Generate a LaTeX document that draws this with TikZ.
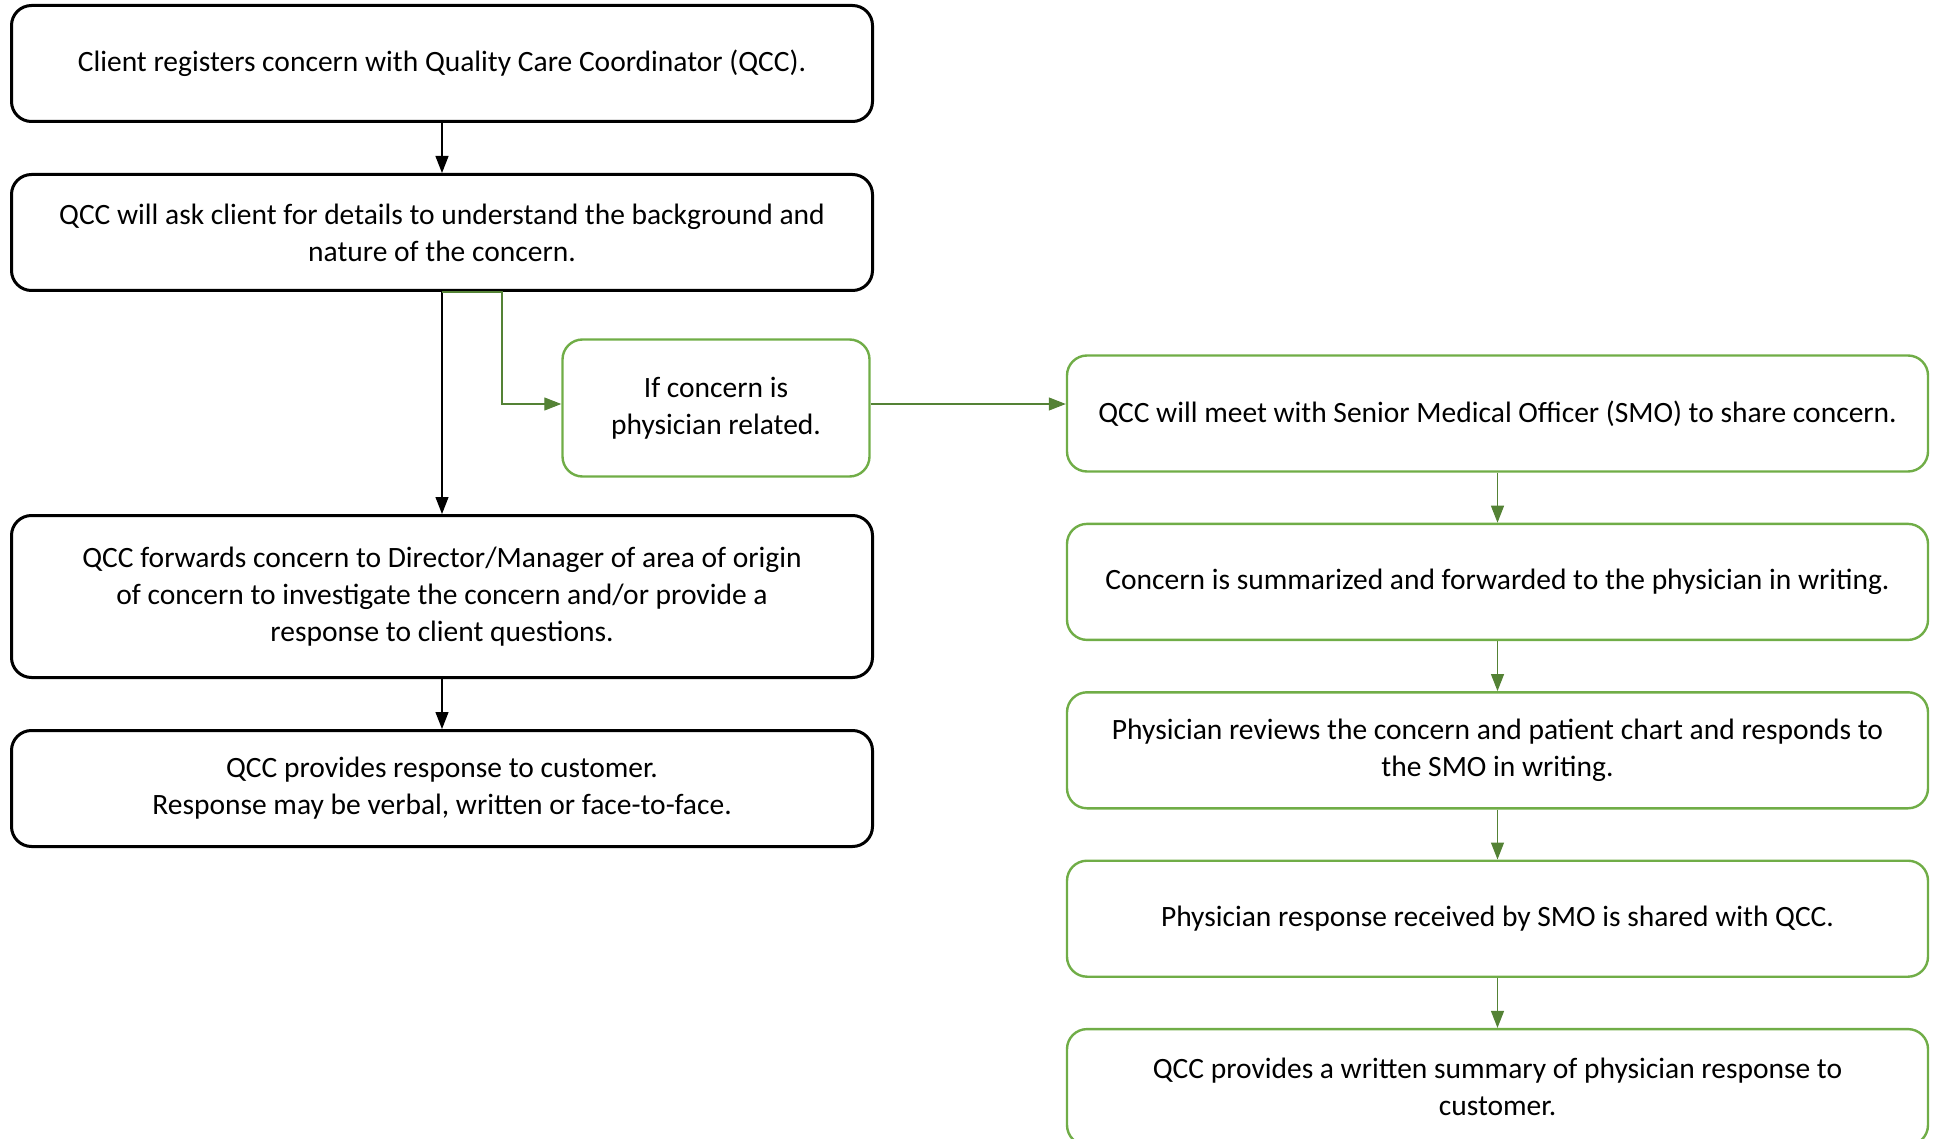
\documentclass[tikz,border=0pt]{standalone}
\usepackage{fontspec}
\setmainfont{Carlito}
\usetikzlibrary{arrows.meta,positioning}
\definecolor{boxgreen}{HTML}{70AD47}
\definecolor{linegreen}{HTML}{548235}

\begin{document}
\begin{tikzpicture}[x=0.5pt,y=-0.5pt,node distance=25pt,
    stepbox/.style={
    % The shape:
    rectangle,rounded corners=10pt,
    minimum width=430.5pt,minimum height=58pt,
    % The rest
    line width=1.5pt,draw=black,align=center,
    font=\fontsize{14.75}{18.5}\selectfont},
    greenbox/.style={stepbox,draw=boxgreen,line width=1.2pt},
    flow/.style={-{Triangle[length=8.5pt,width=6.5pt]},line width=0.6pt},
    greenflow/.style={flow,draw=linegreen}]
    \useasboundingbox (0,0) rectangle (1939,1139);
    % left column
    \node (client) [stepbox] at (442,63.5) {Client registers concern with Quality Care Coordinator (QCC).};
    \node (details) [stepbox,below=of client] {QCC will ask client for details to understand the background and\\nature of the concern.};
    \node (forward) [stepbox,minimum height=81pt,below=111pt of details] {QCC forwards concern to Director/Manager of area of origin\\of concern to investigate the concern and/or provide a\\response to client questions.};
    \node (respond) [stepbox,below=of forward] {QCC provides response to customer.\\Response may be verbal, written or face-to-face.};
    % physician branch
    \node (physician) [greenbox,minimum width=153.5pt,minimum height=68.5pt] at (716,408) {If concern is\\physician related.};
    \node (meet) [greenbox] at (1497.5,413.5) {QCC will meet with Senior Medical Officer (SMO) to share concern.};
    \node (summary) [greenbox,below=of meet] {Concern is summarized and forwarded to the physician in writing.};
    \node (reviews) [greenbox,below=of summary] {Physician reviews the concern and patient chart and responds to\\the SMO in writing.};
    \node (received) [greenbox,below=of reviews] {Physician response received by SMO is shared with QCC.};
    \node (written) [greenbox,below=of received] {QCC provides a written summary of physician response to\\customer.};
    % connectors
    \draw [flow] (client) -- (details);
    \draw [flow] (details) -- (forward);
    \draw [flow] (forward) -- (respond);
    \draw [greenflow] (details.south) -- ++(60,0) |- ([yshift=2pt]physician.west);
    \draw [greenflow] ([yshift=2pt]physician.east) -- ([yshift=2pt]physician.east -| meet.west);
    \draw [greenflow] (meet) -- (summary);
    \draw [greenflow] (summary) -- (reviews);
    \draw [greenflow] (reviews) -- (received);
    \draw [greenflow] (received) -- (written);
\end{tikzpicture}
\end{document}
